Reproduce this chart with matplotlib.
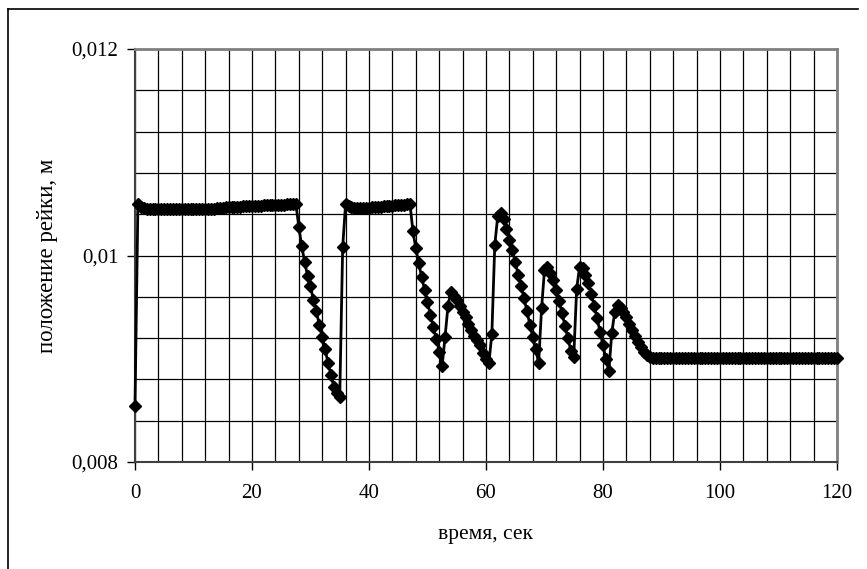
import numpy as np
import matplotlib.pyplot as plt
from matplotlib.ticker import MultipleLocator, FuncFormatter
from matplotlib.lines import Line2D

# время, сек (шаг 0,5 с)
t = np.arange(0, 120.5, 0.5)

# положение рейки, м
start = [0.00854, 0.01050, 0.01047, 0.01046]
plateau1 = [0.01045, 0.01045, 0.01045, 0.01045, 0.01045, 0.01045, 0.01045, 0.01045,
            0.01045, 0.01045, 0.01045, 0.01045, 0.01045, 0.01045, 0.01045, 0.01045,
            0.01045, 0.01045, 0.01045, 0.01045, 0.01045, 0.01045, 0.01045, 0.01045,
            0.01046, 0.01046, 0.01046, 0.01047, 0.01047, 0.01047, 0.01047, 0.01047,
            0.01047, 0.01048, 0.01048, 0.01048, 0.01048, 0.01048, 0.01048, 0.01048,
            0.01049, 0.01049, 0.01049, 0.01049, 0.01049, 0.01049, 0.01049, 0.01049,
            0.01050, 0.01050, 0.01050, 0.01050]
drop1 = [0.01028, 0.01009, 0.00994, 0.00980, 0.00970, 0.00957, 0.00946, 0.00933,
         0.00921, 0.00909, 0.00896, 0.00884, 0.00873, 0.00867, 0.00863, 0.01008,
         0.01050]
plateau2 = [0.01048, 0.01047, 0.01046, 0.01046, 0.01046, 0.01046, 0.01046, 0.01046,
            0.01047, 0.01047, 0.01047, 0.01047, 0.01048, 0.01048, 0.01048, 0.01048,
            0.01049, 0.01049, 0.01049, 0.01049, 0.01050, 0.01050]
swings = [0.01024, 0.01007, 0.00993, 0.00979, 0.00967, 0.00955, 0.00942, 0.00931,
          0.00919, 0.00907, 0.00893, 0.00921, 0.00951, 0.00965, 0.00961, 0.00957,
          0.00951, 0.00945, 0.00940, 0.00934, 0.00928, 0.00922, 0.00918, 0.00913,
          0.00906, 0.00900, 0.00896, 0.00924, 0.01010, 0.01038, 0.01041, 0.01035,
          0.01026, 0.01015, 0.01005, 0.00994, 0.00981, 0.00970, 0.00959, 0.00946,
          0.00933, 0.00921, 0.00909, 0.00896, 0.00949, 0.00986, 0.00989, 0.00983,
          0.00976, 0.00967, 0.00956, 0.00944, 0.00932, 0.00920, 0.00908, 0.00902,
          0.00968, 0.00989, 0.00988, 0.00981, 0.00973, 0.00963, 0.00951, 0.00939,
          0.00926, 0.00913, 0.00900, 0.00888, 0.00925, 0.00945, 0.00952, 0.00949,
          0.00945, 0.00940, 0.00934, 0.00928, 0.00922, 0.00916, 0.00911, 0.00907,
          0.00904, 0.00902, 0.00901]
tail = [0.00901] * 63

y = np.array(start + plateau1 + drop1 + plateau2 + swings + tail)

plt.rcParams['font.family'] = ['Liberation Serif', 'DejaVu Serif']

fig = plt.figure(figsize=(8.67, 5.69), dpi=100)
ax = fig.add_axes([0.1557, 0.188, 0.8097, 0.7259])

ax.plot(t, y, color='black', linewidth=2, marker='D', markersize=6,
        markerfacecolor='black', markeredgecolor='black', clip_on=False, zorder=3)

ax.set_xlim(0, 120)
ax.set_ylim(0.008, 0.012)
ax.xaxis.set_major_locator(MultipleLocator(20))
ax.xaxis.set_minor_locator(MultipleLocator(4))
ax.yaxis.set_major_locator(MultipleLocator(0.002))
ax.yaxis.set_minor_locator(MultipleLocator(0.0004))
ax.yaxis.set_major_formatter(FuncFormatter(lambda v, p: ('%g' % round(v, 4)).replace('.', ',')))

ax.grid(True, which='both', color='black', linewidth=0.9)
ax.tick_params(which='major', direction='out', length=6, width=1, labelsize=15, pad=6)
ax.tick_params(which='minor', length=0)
ax.tick_params(axis='x', pad=10)

for side in ['top', 'right']:
    ax.spines[side].set_color('#808080')
    ax.spines[side].set_linewidth(2)
for side in ['left', 'bottom']:
    ax.spines[side].set_color('#404040')
    ax.spines[side].set_linewidth(1.5)

ax.set_xlabel('время, сек', fontsize=15.5, labelpad=16)
ax.set_ylabel('положение рейки, м', fontsize=16.5, labelpad=10)

# рамка диаграммы
fig.add_artist(Line2D([8 / 867, 8 / 867], [0, 1 - 9 / 569], color='black', linewidth=1.2))
fig.add_artist(Line2D([8 / 867, 858 / 867], [1 - 9 / 569, 1 - 9 / 569], color='black', linewidth=1.2))

fig.savefig('out.png', dpi=100)
